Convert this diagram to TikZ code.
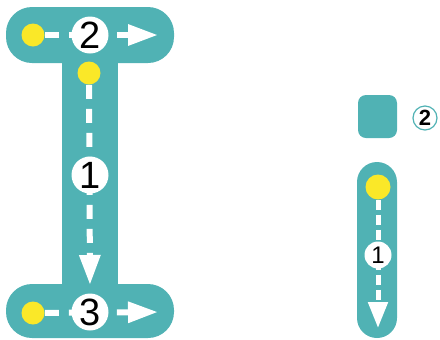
\documentclass[tikz,border=0pt]{standalone}
\usepackage{fontspec}
\setmainfont{Liberation Sans}
\usetikzlibrary{arrows.meta}
\definecolor{letterteal}{RGB}{80,178,180}
\definecolor{dotyellow}{RGB}{250,232,40}

\begin{document}
\begin{tikzpicture}[x=0.5pt,y=-0.5pt,
    bar/.style={fill=letterteal, rounded corners=13pt, inner sep=0pt},
    start/.style={circle, fill=dotyellow, minimum size=11.5pt, inner sep=0pt},
    num/.style={circle, fill=white, minimum size=18.5pt, inner sep=0pt, font=\fontsize{19}{19}\selectfont},
    smallnum/.style={circle, fill=white, minimum size=13.5pt, inner sep=0pt, font=\fontsize{12}{12}\selectfont},
    stroke/.style={white, line width=3pt, dash pattern=on 7pt off 5pt, -{Triangle[length=15pt,width=10pt,sep=3pt]}},
    smallstroke/.style={white, line width=2.5pt, dash pattern=on 5pt off 2.5pt, -{Triangle[length=13pt,width=9.5pt,sep=2pt]}}]
    \useasboundingbox (0,0) rectangle (440,339);

    % letter I
    \node[bar, minimum width=84pt, minimum height=28pt] (topbar) at (90,35) {};
    \node[bar, minimum width=84pt, minimum height=27pt] (botbar) at (90,311) {};
    \node[fill=letterteal, inner sep=0pt, minimum width=28pt, minimum height=125pt] (stem) at (90,175) {};

    \node[start] (s2) at (33,35) {};
    \node[start] (s1) at (89,73) {};
    \node[start] (s3) at (33,313) {};
    \coordinate (e2) at (164,35);
    \coordinate (e1) at (90,291);
    \coordinate (e3) at (164,312);

    \draw[stroke] (s2) -- (e2);
    \draw[stroke] (s1) -- (e1);
    \draw[stroke] (s3) -- (e3);

    \node[num] (n2) at (90,35) {2};
    \node[num] (n1) at (90,175) {1};
    \node[num] (n3) at (90,312) {3};

    % letter i
    \node[fill=letterteal, inner sep=0pt, rounded corners=4pt, minimum width=19.5pt, minimum height=21.5pt] (idot) at (377.5,116.5) {};
    \node[bar, rounded corners=10pt, minimum width=20pt, minimum height=88pt] (istem) at (377,250) {};
    \node[start, minimum size=12.5pt] (is1) at (378,187) {};
    \coordinate (ie1) at (378,332);
    \draw[smallstroke] (is1) -- (ie1);
    \node[smallnum] (in1) at (378,255) {1};
    \node[circle, draw=letterteal, line width=0.6pt, fill=white, minimum size=12pt, inner sep=0pt, font=\fontsize{11}{11}\selectfont\bfseries] (in2) at (425,118) {2};
\end{tikzpicture}
\end{document}
